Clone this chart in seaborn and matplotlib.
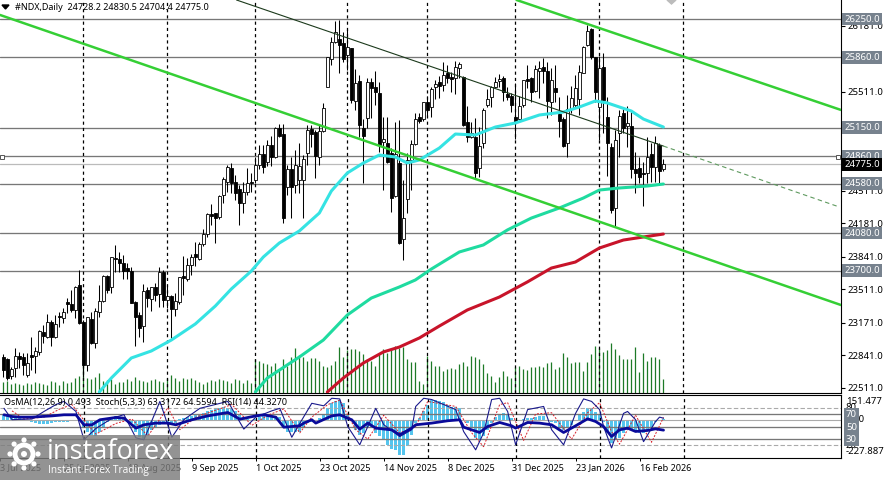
import numpy as np
import seaborn as sns
import matplotlib
matplotlib.use("Agg")
import matplotlib.pyplot as plt
from matplotlib.patches import Rectangle, Circle, Polygon

# --- OHLC, one value per daily bar ---
opens = [22826, 22799, 22630, 22707, 22836, 22826, 22640, 22842, 22836, 22876,
         23072, 23022, 23180, 23028, 23241, 23221, 23377, 23360, 23299, 23552,
         23174, 22741, 23204, 22968, 23275, 23393, 23644, 23529, 23823, 23816,
         23772, 23721, 23698, 23383, 23248, 23140, 23502, 23410, 23529, 23461,
         23687, 23400, 23441, 23309, 23383, 23644, 23610, 23755, 23863, 23816,
         23968, 24069, 24272, 24279, 24238, 24466, 24601, 24736, 24601, 24523,
         24381, 24493, 24601, 24618, 24770, 24881, 24797, 24973, 24854, 25142,
         25084, 24550, 24729, 24567, 24618, 24618, 24895, 25132, 25108, 24854,
         25115, 25557, 25841, 26020, 26048, 26010, 25885, 25953, 25419, 25622,
         25142, 25243, 25608, 25557, 25497, 25006, 24990, 24888, 24456, 24787,
         24016, 24422, 24821, 24983, 25260, 25233, 25412, 25355, 25564, 25615,
         25581, 25699, 25666, 25649, 25750, 25666, 25203, 25057, 25057, 24736,
         24990, 25378, 25456, 25557, 25625, 25649, 25490, 25470, 25253, 25233,
         25378, 25642, 25649, 25524, 25726, 25760, 25726, 25412, 25547, 25287,
         25236, 24990, 25334, 25378, 25436, 25706, 25987, 26149, 25862, 25361,
         25760, 25260, 24956, 24330, 25091, 25294, 25165, 25165, 24726, 24736,
         24692, 24685, 24881, 24753, 24973, 24728.2]
closes = [22690, 22606, 22697, 22836, 22799, 22741, 22758, 22826, 22883, 23086,
          23035, 23174, 23022, 23157, 23224, 23275, 23360, 23299, 23529, 23164,
          22741, 23224, 22961, 23292, 23393, 23647, 23502, 23833, 23813, 23772,
          23698, 23698, 23373, 23224, 23120, 23491, 23417, 23529, 23451, 23687,
          23400, 23444, 23309, 23393, 23637, 23620, 23752, 23840, 23840, 23968,
          24069, 24272, 24255, 24228, 24455, 24625, 24753, 24584, 24489, 24381,
          24499, 24584, 24584, 24770, 24881, 24753, 24973, 24848, 25142, 25064,
          24236, 24729, 24550, 24770, 24763, 24827, 25125, 25084, 24861, 25115,
          25344, 25862, 26014, 26122, 25987, 25841, 25970, 25429, 25598, 25175,
          25064, 25608, 25547, 25513, 24973, 25030, 24804, 24439, 24878, 23976,
          24229, 24821, 24983, 25233, 25219, 25412, 25328, 25537, 25591, 25574,
          25682, 25649, 25639, 25767, 25791, 25175, 25050, 25098, 24685, 24963,
          25328, 25436, 25557, 25615, 25639, 25513, 25456, 25378, 25209, 25372,
          25632, 25625, 25507, 25743, 25757, 25726, 25422, 25632, 25507, 25219,
          24966, 25334, 25453, 25547, 25710, 25970, 26129, 25862, 25513, 25750,
          25429, 24996, 24314, 25023, 25267, 25142, 25192, 24726, 24692, 24652,
          24679, 24854, 24753, 24990, 24712, 24775.0]
highs = [22853, 22809, 22724, 22910, 22876, 22859, 22859, 23028, 22927, 23096,
         23147, 23255, 23197, 23248, 23282, 23316, 23424, 23502, 23542, 23704,
         23197, 23231, 23282, 23316, 23552, 23654, 23654, 23840, 23958, 23890,
         23857, 23779, 23738, 23393, 23282, 23562, 23535, 23529, 23576, 23731,
         23704, 23552, 23451, 23468, 23637, 23846, 23823, 23867, 23992, 23992,
         24117, 24286, 24374, 24286, 24465, 24652, 24770, 24787, 24668, 24567,
         24601, 24736, 24685, 24854, 24973, 24973, 25023, 25064, 25159, 25186,
         25186, 24770, 24854, 24922, 24990, 24871, 25175, 25175, 25125, 25175,
         25402, 25862, 26071, 26230, 26240, 26122, 26139, 25960, 25743, 25682,
         25233, 25649, 25655, 25723, 25615, 25260, 25260, 24939, 25209, 25226,
         24618, 24888, 25023, 25294, 25294, 25412, 25473, 25557, 25632, 25672,
         25811, 25784, 25716, 25828, 25818, 25672, 25368, 25209, 25243, 25159,
         25344, 25537, 25571, 25666, 25689, 25672, 25564, 25503, 25598, 25470,
         25632, 25784, 25666, 25784, 25828, 25851, 25818, 25750, 25784, 25463,
         25260, 25480, 25571, 25682, 25784, 25977, 26189, 26156, 25868, 25875,
         25902, 25463, 24990, 25125, 25328, 25361, 25368, 25311, 24905, 24854,
         24804, 25057, 24990, 25064, 24990, 24830.5]
lows = [22623, 22589, 22599, 22623, 22707, 22640, 22623, 22690, 22657, 22842,
        22961, 23012, 22937, 23012, 23130, 23164, 23265, 23282, 23214, 23157,
        22623, 22684, 22954, 22910, 23231, 23383, 23468, 23475, 23687, 23687,
        23613, 23613, 23366, 22937, 23022, 22978, 23333, 23292, 23393, 23326,
        23326, 23316, 23012, 23238, 23356, 23451, 23596, 23654, 23745, 23806,
        23951, 24042, 24161, 23975, 24218, 24381, 24499, 24483, 24415, 24161,
        24280, 24466, 24499, 24584, 24726, 24692, 24763, 24763, 24837, 25057,
        24178, 24466, 24229, 24483, 24483, 24229, 24770, 24956, 24635, 24770,
        25108, 25557, 25784, 26004, 25699, 25818, 25733, 25395, 25328, 25057,
        24584, 25142, 25243, 25378, 24905, 24516, 24787, 24290, 24449, 23969,
        23807, 24280, 24516, 24973, 25192, 25219, 25260, 25260, 25436, 25446,
        25524, 25598, 25513, 25486, 25649, 25165, 25006, 25040, 24635, 24652,
        24939, 25361, 25361, 25547, 25564, 25422, 25429, 25311, 25030, 25226,
        25361, 25547, 25412, 25513, 25446, 25598, 25243, 25277, 25412, 25057,
        24956, 24854, 25294, 25361, 25277, 25699, 25977, 25841, 25412, 25023,
        25091, 24658, 24287, 24145, 24854, 25091, 24956, 24635, 24483, 24584,
        24354, 24584, 24601, 24601, 24584, 24704.4]
volumes = [11, 12, 9, 10, 9, 8, 10, 9, 11, 10, 9, 8, 12, 11, 8, 12, 10, 11, 15, 17,
           28, 15, 14, 16, 20, 12, 13, 14, 9, 11, 11, 14, 12, 16, 13, 12, 11, 13, 14, 12,
           11, 15, 18, 15, 12, 15, 14, 15, 13, 11, 9, 11, 13, 12, 14, 13, 12, 10, 14, 13,
           10, 13, 10, 34, 32, 30, 29, 27, 30, 24, 34, 27, 36, 45, 38,
           36, 32, 35, 35, 32, 27, 26, 28, 32, 46, 36, 43, 44, 44, 42, 39, 34, 32, 27, 39,
           44, 40, 45, 47, 45, 46, 34, 31, 31, 12, 9, 37, 32, 27, 27, 22, 24, 25, 24, 29,
           31, 27, 37, 36, 34, 29, 20, 17, 11, 16, 22, 17, 15, 26, 27, 24, 23, 26, 26, 27,
           26, 30, 31, 24, 26, 40, 36, 30, 31, 31, 22,
           31, 39, 47, 45, 41, 43, 50, 44, 38, 34, 34, 34, 46, 21, 40, 32, 36, 36, 34, 14]

# --- moving averages, read at turning points ---
ma_fast_bar = [24, 27, 32, 37, 42, 48, 53, 57, 62, 65, 69, 74, 79, 82, 86, 90, 94, 98, 101, 104,
               109, 113, 118, 123, 128, 134, 140, 144, 148, 151, 154, 157, 160, 165]
ma_fast = [22468, 22610, 22813, 22884, 22995, 23158, 23340, 23513, 23695, 23837, 23979, 24101,
           24283, 24506, 24689, 24790, 24871, 24851, 24790, 24821, 24942, 25084, 25074, 25155,
           25196, 25277, 25307, 25358, 25419, 25399, 25358, 25317, 25236, 25155]
ma_mid_bar = [63, 66, 74, 80, 86, 92, 99, 103, 107, 114, 120, 126, 132, 139, 145, 149, 154, 161, 165]
ma_mid = [22468, 22610, 22823, 22995, 23249, 23421, 23533, 23604, 23715, 23888, 23959, 24111,
          24232, 24334, 24435, 24516, 24537, 24557, 24577]
ma_slow_bar = [81, 85, 90, 95, 99, 104, 109, 116, 124, 131, 137, 143, 149, 155, 160, 165]
ma_slow = [22468, 22610, 22762, 22874, 22924, 23016, 23137, 23300, 23431, 23584, 23725, 23786,
           23928, 24009, 24040, 24070]

# --- trend lines ---
channel_low_bar = [-0.8, 209.4]
channel_low = [26291, 23350]
channel_high_bar = [128.3, 209.4]
channel_high = [26443, 25328]
mid_line_bar = [58.3, 165]
mid_line = [26443, 24962]
mid_ray_bar = [165, 209]
mid_ray = [24962, 24344]

levels = [26250, 25860, 25150, 24860, 24580, 24080, 23700]
last_price = 24775.0
price_ticks = [26181, 25511, 24511, 24181, 23841, 23511, 23171, 22841, 22511]
separators = [20, 41, 63, 86, 106, 128, 149, 170]
date_bars = [-1, 15, 31, 47, 63, 79, 95, 111, 127, 143, 159]
date_labels = ["3 Jul 2025", "25 Jul 2025", "18 Aug 2025", "9 Sep 2025", "1 Oct 2025", "23 Oct 2025",
               "14 Nov 2025", "8 Dec 2025", "31 Dec 2025", "23 Jan 2026", "16 Feb 2026"]

# --- lower panel indicators ---
osma = [30, 30, 25, 15, 10, 8, -8, -15, -20, -22, -25, -25, -20, -15, -12, -10, -10, -8, -5, 0,
        -50, -70, -90, -95, -70, -40, -15, 10, 25, 20, 10, -5, -20, -70, -100, -120, -90, -60, -45, -30,
        -25, -25, -30, -20, 5, 10, 20, 25, 28, 35, 40, 50, 60, 65, 70, 75, 70, 65, 50, 30,
        15, 5, -5, 5, 20, 25, 30, 25, 25, 15, -50, -70, -75, -70, -70,
        -40, -20, -10, 0, 10, 36, 69, 99, 115, 118, 99, 30, 0, -59, -89, -79, -49, -49, -79, -99,
        -119, -148, -174, -178, -207, -211, -158, -89, -20, 10, 55, 89, 119, 119, 115, 109, 89, 79, 79, 69,
        0, -20, -40, -109, -119, -99, -59, -20, 20, 36, 43, 30, 10, 0, 0, 4, 10, 10, 20, 24,
        24, 0, -10, -20, -49, -59, -49, -30, 0, 30, 49, 69, 69, 49, 30,
        -10, -79, -138, -119, -109, -79, -59, -59, -69, -79, -79, -59, -40, -10, 0, 4]
rsi_bar = [0, 2, 4, 7, 12, 15, 18, 20, 22, 24, 28, 30, 33, 35, 38, 41, 43, 47, 51, 56, 59, 63, 65, 68, 70, 74,
           75, 77, 78, 82, 84, 87, 89, 91, 93, 97, 99, 102, 103, 107, 111, 114, 115, 119, 121, 124, 127, 128,
           131, 134, 137, 140, 143, 146, 148, 150, 152, 154, 156, 158, 161, 163, 165]
rsi = [68.7, 66, 65, 65, 67, 68.7, 68.7, 52.8, 52.8, 60.8, 64.5, 63.4, 47.5, 52.8, 55.5, 55.5, 52.8, 60.8, 67,
       72.4, 61.8, 67, 68.7, 65, 49, 51.2, 55.5, 60.8, 55.5, 67, 68.7, 60.8, 45.9, 55.5, 47.5, 44.8, 36.9, 47.5,
       52.8, 55.5, 59.2, 60.8, 49, 40.6, 50.1, 56.5, 51.2, 47.5, 56.5, 55.5, 52.8, 40.6, 51.2, 62.3, 58.1, 50.1,
       34.2, 44.8, 47.5, 42.2, 43.8, 46.4, 44.3]
stoch_bar = [0, 2, 7, 10, 13, 15, 18, 20, 23, 27, 30, 33, 35, 39, 42, 45, 49, 56, 60, 63, 67, 69, 72, 74,
             77, 80, 82, 84, 86, 89, 93, 95, 99, 102, 103, 105, 107, 113, 115, 118, 120, 122, 124, 126, 128,
             131, 135, 137, 140, 143, 145, 147, 149, 150, 152, 155, 156, 158, 160, 163, 164, 165]
stoch = [79, 61, 62, 74, 85, 90, 74, 29, 47, 63, 69, 32, 29, 90, 33, 61, 79, 90, 46, 65, 75, 79, 33, 55,
         87, 83, 95, 94, 50, 21, 79, 53, 34, 45, 82, 95, 93, 77, 42, 13, 40, 93, 95, 74, 21,
         77, 82, 45, 21, 71, 94, 90, 77, 50, 16, 71, 74, 61, 26, 58, 65, 63.3]
signal_bar = [2, 5, 10, 14, 17, 20, 23, 28, 32, 36, 41, 44, 48, 57, 62, 66, 70, 74, 77, 81, 84, 88, 91, 95, 99,
              103, 106, 113, 117, 120, 124, 126, 130, 133, 137, 142, 146, 149, 152, 154, 158, 162, 165]
signal = [75, 62, 65, 78, 85, 60, 38, 55, 62, 35, 80, 45, 65, 85, 52, 68, 78, 40, 65, 85, 92, 45, 30, 68, 40,
          50, 90, 82, 40, 18, 85, 88, 28, 70, 72, 30, 72, 88, 42, 22, 68, 25, 64.6]
osc_levels = [70, 50, 30]
osc_dashed = [80, 20]

W, H = 885, 480
bars = np.arange(len(closes))
x_left, x_right = -0.825, 209.4
price_top, price_bottom = 26443, 22458
FS = 6.9
FS_HEAD = 6.5

sns.set_theme(style="white")
plt.rcParams["font.family"] = ["Noto Sans", "DejaVu Sans"]
plt.rcParams["axes.linewidth"] = 0.8

fig = plt.figure(figsize=(W / 100, H / 100), dpi=100, facecolor="white")
rect_main = [0, 1 - 393 / H, 841 / W, 393 / H]
rect_low = [0, 1 - 458 / H, 841 / W, 63.5 / H]
ax_vol = fig.add_axes(rect_main)
ax = fig.add_axes(rect_main, facecolor="none")
ax_osma = fig.add_axes(rect_low)
ax_low = fig.add_axes(rect_low, facecolor="none")

# volume
ax_vol.vlines(bars, 0, volumes, color="#1d7a27", lw=0.9)
ax_vol.set_xlim(x_left, x_right)
ax_vol.set_ylim(0, 393)
ax_vol.axis("off")

# levels and separators
for lv in levels:
    ax.axhline(lv, color="#777777", lw=0.95, zorder=1)
ax.axhline(last_price, color="#bbbbbb", lw=0.9, zorder=1)
for sep in separators:
    ax.axvline(sep, color="black", lw=0.9, ls=(0, (2.5, 2.5)), zorder=1)

# candles
up = np.array(closes) >= np.array(opens)
body_low = np.minimum(opens, closes)
body_size = np.abs(np.array(closes) - np.array(opens))
ax.vlines(bars, lows, highs, color="black", lw=0.75, zorder=2)
ax.bar(bars, np.maximum(body_size, 8), bottom=body_low, width=0.6,
       color=np.where(up, "white", "black").tolist(), edgecolor="black", lw=0.6, zorder=3)

# moving averages and trend lines
sns.lineplot(x=ma_fast_bar, y=ma_fast, ax=ax, color="#35e3e3", lw=2.2, zorder=4, errorbar=None)
sns.lineplot(x=ma_mid_bar, y=ma_mid, ax=ax, color="#1fdba0", lw=2.2, zorder=4, errorbar=None)
sns.lineplot(x=ma_slow_bar, y=ma_slow, ax=ax, color="#c8142a", lw=2.2, zorder=4, errorbar=None)
sns.lineplot(x=channel_low_bar, y=channel_low, ax=ax, color="#35cf35", lw=1.8, zorder=5, errorbar=None)
sns.lineplot(x=channel_high_bar, y=channel_high, ax=ax, color="#35cf35", lw=1.8, zorder=5, errorbar=None)
sns.lineplot(x=mid_line_bar, y=mid_line, ax=ax, color="#1c3a1c", lw=0.8, zorder=5, errorbar=None)
sns.lineplot(x=mid_ray_bar, y=mid_ray, ax=ax, color="#5f9a5f", lw=0.8, ls=(0, (4, 3)), zorder=5, errorbar=None)

ax.set_xlim(x_left, x_right)
ax.set_ylim(price_bottom, price_top)
ax.set_xticks([])
ax.yaxis.tick_right()
ax.set_yticks(price_ticks, [f"{t:.1f}" for t in price_ticks], fontsize=FS, color="black")
ax.tick_params(axis="y", length=3, width=0.8, pad=2, color="black", right=True)
for s in ["top", "left"]:
    ax.spines[s].set_visible(False)
ax.spines["right"].set_color("black")
ax.spines["bottom"].set_color("black")

# boxes on the price scale
trans = ax.get_yaxis_transform()
for lv in levels:
    ax.text(1.004, lv, f"{lv:.1f}", transform=trans, va="center", ha="left", fontsize=FS, color="white",
            bbox=dict(boxstyle="square,pad=0.2", fc="#77828e", ec="none"), zorder=8, clip_on=False)
ax.text(1.004, last_price, f"{last_price:.1f}", transform=trans, va="center", ha="left", fontsize=FS,
        color="white", bbox=dict(boxstyle="square,pad=0.2", fc="black", ec="none"), zorder=9, clip_on=False)

# lower panel
sns.barplot(x=bars, y=osma, ax=ax_osma, native_scale=True, color="#55c5ee", saturation=1,
            width=0.72, errorbar=None, linewidth=0)
ax_osma.axhline(0, color="#aaaaaa", lw=0.8)
ax_osma.set_xlim(x_left, x_right)
ax_osma.set_ylim(-227.887, 151.477)
ax_osma.axis("off")

for lv in osc_levels:
    ax_low.axhline(lv, color="#777777", lw=0.95, zorder=1)
for lv in osc_dashed:
    ax_low.axhline(lv, color="#aaaaaa", lw=0.8, ls=(0, (4, 2)), zorder=1)
for sep in separators:
    ax_low.axvline(sep, color="black", lw=0.9, ls=(0, (2.5, 2.5)), zorder=1)
sns.lineplot(x=signal_bar, y=signal, ax=ax_low, color="#d8202a", lw=0.7, ls=(0, (2, 1.5)), zorder=3, errorbar=None)
sns.lineplot(x=stoch_bar, y=stoch, ax=ax_low, color="#1a1a8c", lw=0.8, zorder=3, errorbar=None)
sns.lineplot(x=rsi_bar, y=rsi, ax=ax_low, color="#0a0a9a", lw=2, zorder=4, errorbar=None)
ax_low.set_xlim(x_left, x_right)
ax_low.set_ylim(0, 101)
ax_low.set_yticks([])
ax_low.set_xticks(date_bars, date_labels, fontsize=FS_HEAD, ha="left", color="black")
ax_low.tick_params(axis="x", length=2, width=0.7, pad=2, color="black", bottom=True)
ax_low.spines["left"].set_visible(False)
for s in ["top", "bottom", "right"]:
    ax_low.spines[s].set_color("black")

# overlay in pixel units for the texts around the panels
over = fig.add_axes([0, 0, 1, 1], facecolor="none")
over.set_xlim(0, W)
over.set_ylim(H, 0)
over.axis("off")
over.text(15, 7.5, "#NDX,Daily  24728.2 24830.5 24704.4 24775.0", fontsize=FS_HEAD, va="center", ha="left", color="black")
over.add_patch(Polygon([[2, 5], [9, 5], [5.5, 9]], color="black"))
over.add_patch(Polygon([[667, 0], [676, 0], [671.5, 4]], color="#bcbcbc"))
over.add_patch(Rectangle((0, 155), 4, 4, fc="white", ec="#555555", lw=0.7))
over.add_patch(Rectangle((836, 155), 4, 4, fc="white", ec="#555555", lw=0.7))
over.text(4, 403, "OsMA(12,26,9) 0.493  Stoch(5,3,3) 63.3172 64.5594  RSI(14) 44.3270", fontsize=FS_HEAD,
          va="center", ha="left", color="black")

# scale labels of the lower panel
over.text(846, 402, "151.477", fontsize=FS, va="center", ha="left", color="black")
over.text(846, 420, "0.00", fontsize=FS, va="center", ha="left", color="black")
over.text(846, 452, "-227.887", fontsize=FS, va="center", ha="left", color="black")
over.text(846, 408, "80", fontsize=FS, va="center", ha="left", color="black")
over.text(846, 446, "20", fontsize=FS, va="center", ha="left", color="black")
for lab, y in zip(["70", "50", "30"], [414.5, 427, 439.5]):
    over.text(846, y, lab, fontsize=FS, va="center", ha="left", color="white",
              bbox=dict(boxstyle="square,pad=0.2", fc="#77828e", ec="none"))

# watermark
over.add_patch(Rectangle((0, 435), 180, 45, fc="#7c7c7c", ec="none", alpha=0.82, zorder=10))
over.add_patch(Circle((24, 454), 9, fc="none", ec="white", lw=3.5, zorder=11))
over.add_patch(Circle((24, 454), 3, fc="white", ec="none", zorder=11))
for ang in np.arange(0, 360, 45):
    over.add_patch(Circle((24 + 14 * np.cos(np.radians(ang)), 454 + 14 * np.sin(np.radians(ang))), 2.6,
                          fc="white", ec="none", zorder=11))
over.text(47, 452, "instaforex", fontsize=19.5, fontfamily="Open Sans", color="white", va="center", ha="left", zorder=11)
over.text(48, 471, "Instant Forex Trading", fontsize=7.3, fontfamily="Open Sans", color="white", va="center", ha="left", zorder=11)

fig.savefig("out.png", dpi=100)
